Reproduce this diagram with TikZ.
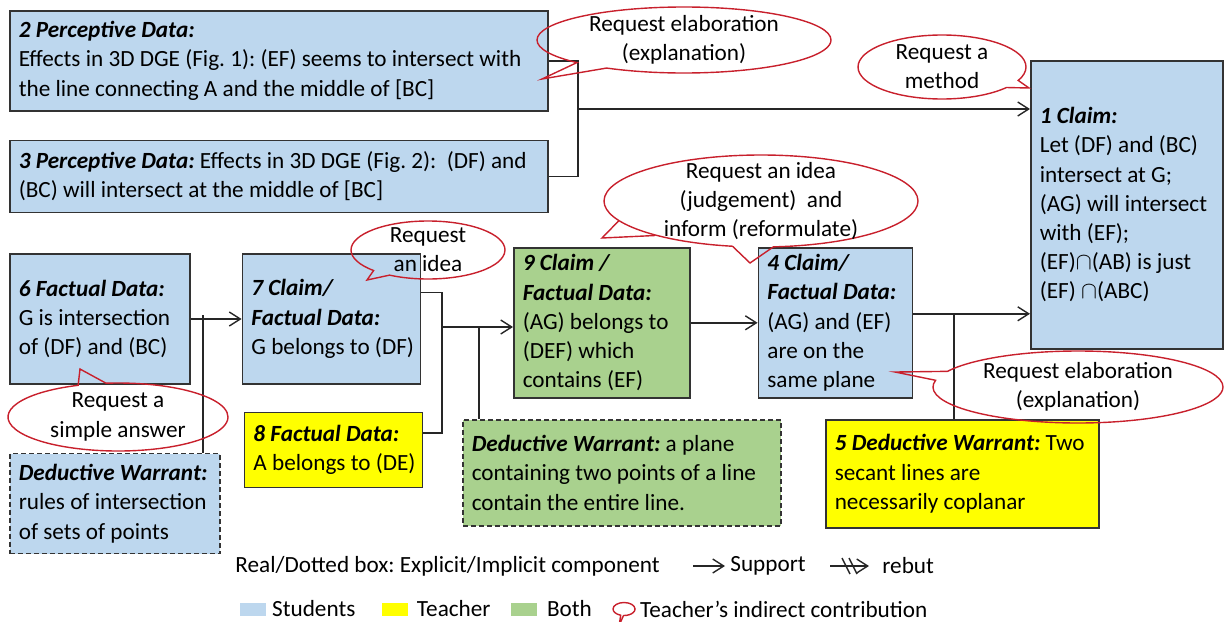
\documentclass[tikz,border=0pt]{standalone}
\usepackage{fontspec}
\setmainfont{Carlito}
\usepackage{tikz}
\usetikzlibrary{positioning,arrows.meta,shapes.callouts}
\definecolor{stublue}{HTML}{BDD7EE}
\definecolor{teayellow}{HTML}{FFFF00}
\definecolor{bothgreen}{HTML}{A9D18E}
\definecolor{sayred}{HTML}{C8202C}
\newcommand{\hd}[1]{\textbf{\textit{#1}}}
\frenchspacing

\begin{document}
\begin{tikzpicture}[x=0.5pt,y=0.5pt,>={Straight Barb[length=5.5pt,width=7pt]},
   font=\fontsize{11.6}{14.6}\selectfont,
   comp/.style={draw=black!80,line width=0.8pt,align=left,inner xsep=0pt,inner ysep=0pt,anchor=north west,
     execute at begin node={\leftskip=4.5pt\spaceskip=0pt\xspaceskip=0pt}},
   implicit/.style={comp,dash pattern=on 2.5pt off 1.5pt},
   link/.style={line width=0.7pt,black!85},
   say/.style={ellipse callout,draw=sayred,line width=0.7pt,align=center,inner xsep=0pt,inner ysep=-3pt},
   swatch/.style={minimum width=13pt,minimum height=6.5pt,inner sep=0pt},
   legend/.style={inner sep=0pt}]
  \useasboundingbox (0,0) rectangle (1224,-621);

  % components of the argument
  \node[comp,fill=stublue,text width=269pt,minimum height=50pt] (n2) at (9,-10)
    {\hd{2 Perceptive Data:}\\Effects in 3D DGE (Fig. 1): (EF) seems to intersect with\\the line connecting A and the middle of [BC]};
  \node[comp,fill=stublue,text width=269pt,minimum height=36pt,below right=14pt and 0pt of n2.south west] (n3)
    {\hd{3 Perceptive Data:} Effects in 3D DGE (Fig. 2):~ (DF) and\\(BC) will intersect at the middle of [BC]};
  \node[comp,fill=stublue,text width=96pt,minimum height=144pt] (n1) at (1030,-60)
    {\hd{1 Claim:}\\Let (DF) and (BC)\\intersect at G;\\(AG) will intersect\\with (EF);\\(EF)$\cap$(AB) is just\\(EF) $\cap$(ABC)};
  \node[comp,fill=stublue,text width=90pt,minimum height=65pt,below right=20pt and 0pt of n3.south west] (n6)
    {\hd{6 Factual Data:}\\G is intersection\\of (DF) and (BC)};
  \node[comp,fill=stublue,text width=89pt,minimum height=65pt,below right=0pt and 25.5pt of n6.north east] (n7)
    {\hd{7 Claim/}\\\hd{Factual Data:}\\G belongs to (DF)};
  \node[comp,fill=teayellow,text width=89pt,minimum height=37.5pt,below right=13.5pt and 1pt of n7.south west] (n8)
    {\hd{8 Factual Data:}\\A belongs to (DE)};
  \node[implicit,fill=stublue,text width=105pt,minimum height=50pt,below right=34pt and 0pt of n6.south west] (w6)
    {\hd{Deductive Warrant:}\\rules of intersection\\of sets of points};
  \node[comp,fill=bothgreen,text width=88pt,minimum height=75pt] (n9) at (513,-247)
    {\hd{9 Claim /}\\\hd{Factual Data:}\\(AG) belongs to\\(DEF) which\\contains (EF)};
  \node[comp,fill=stublue,text width=77pt,minimum height=75pt,below right=0pt and 33.5pt of n9.north east] (n4)
    {\hd{4 Claim/}\\\hd{Factual Data:}\\(AG) and (EF)\\are on the\\same plane};
  \node[implicit,fill=bothgreen,text width=159pt,minimum height=53pt] (w9) at (462,-419)
    {\hd{Deductive Warrant:} a plane\\containing two points of a line\\contain the entire line.};
  \node[comp,fill=teayellow,text width=136.5pt,minimum height=54pt] (n5) at (825,-419)
    {\hd{5 Deductive Warrant:} Two\\secant lines are\\necessarily coplanar};

  % support links
  \coordinate (j23) at (578,-109);
  \draw[link] (n2.east) -| (j23) |- (n3.east);
  \draw[link,->] (j23) -- (j23 -| n1.west);
  \draw[link,->] (n6) -- (n7);
  \coordinate (k6) at (203,-315);
  \draw[link] (k6) -- (k6 |- w6.north);
  \coordinate (j78) at (442,-327);
  \draw[link] ([yshift=-19.5pt]n7.north east) -| (j78) |- ([yshift=-10.5pt]n8.north east);
  \draw[link,->] (j78) -- (j78 -| n9.west);
  \coordinate (k9) at (479,-327);
  \draw[link] (k9) -- (k9 |- w9.north);
  \draw[link,->] (n9) -- (n4);
  \coordinate (j41) at ([yshift=4.5pt]n4.east);
  \draw[link,->] (j41) -- (j41 -| n1.west);
  \coordinate (k4) at (954,-313);
  \draw[link] (k4) -- (k4 |- n5.north);

  % teacher's requests
  \coordinate (t2) at (542,-79);
  \node[say,minimum width=147pt,minimum height=33pt,callout absolute pointer=(t2)] (c2) at (684,-40)
    {Request elaboration\\(explanation)};
  \coordinate (tM) at (1029,-88);
  \node[say,minimum width=84pt,minimum height=32pt,callout absolute pointer=(tM)] (cM) at (942,-67)
    {Request a\\method};
  \coordinate (tB) at (750,-263);
  \coordinate (tB2) at (602,-238);
  \node[say,inner ysep=-4pt,minimum width=157pt,minimum height=46pt,callout absolute pointer=(tB)] (cB) at (761,-201)
    {Request an idea\\(judgement)~ and\\inform (reformulate)};
  \draw[sayred,line width=0.7pt] (cB.188) -- (tB2) -- (cB.198);
  \coordinate (t7) at (367,-280);
  \node[say,minimum width=77pt,minimum height=29pt,callout absolute pointer=(t7)] (c7) at (428,-250)
    {Request\\an idea};
  \coordinate (t6) at (80,-369);
  \node[say,minimum width=110pt,minimum height=34pt,callout absolute pointer=(t6)] (c6) at (118,-417)
    {Request a\\simple answer};
  \coordinate (t4) at (895,-372);
  \node[say,minimum width=145pt,minimum height=36pt,callout absolute pointer=(t4)] (c4) at (1078,-387)
    {Request elaboration\\(explanation)};

  % legend
  \node[legend,anchor=west] (lreal) at (235,-566) {Real/Dotted box: Explicit/Implicit component};
  \node[legend,anchor=west] (lsup) at (730,-566) {Support};
  \draw[link,->] ([xshift=-18.5pt]lsup.west) -- ([xshift=-2.5pt]lsup.west);
  \node[legend,anchor=west] (lreb) at (882,-566) {rebut};
  \draw[link,->] ([xshift=-26pt]lreb.west) -- ([xshift=-6.5pt]lreb.west);
  \draw[link] ([xshift=-20pt,yshift=4pt]lreb.west) -- ++(4pt,-8pt);
  \draw[link] ([xshift=-16.5pt,yshift=4pt]lreb.west) -- ++(4pt,-8pt);
  \node[swatch,fill=stublue,anchor=west] (sqS) at (240,-609) {};
  \node[legend,right=2.5pt of sqS] (lstu) {Students};
  \node[swatch,fill=teayellow,right=13pt of lstu] (sqT) {};
  \node[legend,right=4pt of sqT] (ltea) {Teacher};
  \node[swatch,fill=bothgreen,right=10pt of ltea] (sqB) {};
  \node[legend,right=4.5pt of sqB] (lboth) {Both};
  \node[ellipse callout,draw=sayred,line width=0.7pt,minimum width=11pt,minimum height=6.5pt,inner sep=0pt,
        callout relative pointer={(-1.5pt,-5pt)},right=10pt of lboth] (sqC) {};
  \node[legend,right=2pt of sqC] (lind) {Teacher’s indirect contribution};
\end{tikzpicture}
\end{document}
